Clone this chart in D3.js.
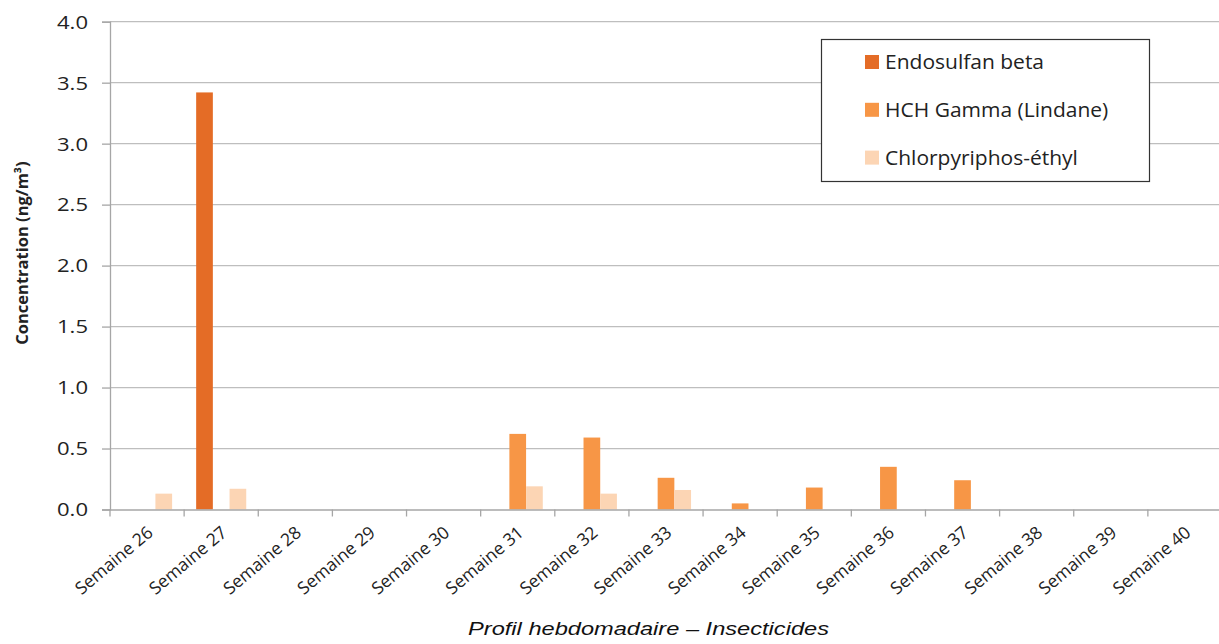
<!DOCTYPE html>
<html>
<head>
<meta charset="utf-8">
<script src="https://cdn.jsdelivr.net/npm/d3@7"></script>
<style>
  html, body { margin: 0; padding: 0; background: #fff; }
  svg { display: block; }
</style>
</head>
<body>
<svg id="chart" width="1219" height="644"></svg>
<script>
// Weekly insecticide concentrations (ng/m³)
const weeks = ["Semaine 26","Semaine 27","Semaine 28","Semaine 29","Semaine 30","Semaine 31","Semaine 32",
               "Semaine 33","Semaine 34","Semaine 35","Semaine 36","Semaine 37","Semaine 38","Semaine 39","Semaine 40"];
const seriesNames = ["Endosulfan beta", "HCH Gamma (Lindane)", "Chlorpyriphos-éthyl"];
const endosulfanBeta   = [0, 3.42, 0, 0, 0, 0,    0,    0,    0,    0,    0,    0,    0, 0, 0];
const hchGamma         = [0, 0,    0, 0, 0, 0.62, 0.59, 0.26, 0.05, 0.18, 0.35, 0.24, 0, 0, 0];
const chlorpyriphos    = [0.13, 0.17, 0, 0, 0, 0.19, 0.13, 0.16, 0, 0, 0, 0, 0, 0, 0];
const yTicks = [0, 0.5, 1.0, 1.5, 2.0, 2.5, 3.0, 3.5, 4.0];
const colors = ["#E46C26", "#F79646", "#FCD5B4"];

const series = [endosulfanBeta, hchGamma, chlorpyriphos];
const FONT = "'Open Sans', sans-serif";
const INK = "#222";
const AXIS = "#A6A6A6";

const svg = d3.select("#chart");
const margin = { left: 110, right: 1222, top: 21.7, bottom: 509.5 };

const x = d3.scaleBand().domain(weeks).range([margin.left, margin.right]).paddingInner(0).paddingOuter(0);
const xInner = d3.scaleBand().domain(d3.range(series.length))
  .range([0, x.bandwidth()]).paddingOuter(0.72).paddingInner(0);
const y = d3.scaleLinear().domain([0, 4]).range([margin.bottom, margin.top]);

// gridlines
svg.append("g")
  .selectAll("line")
  .data(yTicks.filter(d => d > 0))
  .join("line")
  .attr("x1", margin.left).attr("x2", margin.right)
  .attr("y1", d => y(d)).attr("y2", d => y(d))
  .attr("stroke", "#BEBEBE").attr("stroke-width", 1.3);

// bars
const groups = svg.append("g")
  .selectAll("g")
  .data(weeks)
  .join("g")
  .attr("transform", d => `translate(${x(d)},0)`);

groups.selectAll("rect")
  .data((w, i) => series.map((s, k) => ({ k, v: s[i] })).filter(d => d.v > 0))
  .join("rect")
  .attr("x", d => xInner(d.k))
  .attr("width", xInner.bandwidth())
  .attr("y", d => y(d.v))
  .attr("height", d => y(0) - y(d.v))
  .attr("fill", d => colors[d.k]);

// y axis: line + ticks from d3, labels drawn separately (slightly widened glyphs)
const yAxis = svg.append("g")
  .attr("transform", `translate(${margin.left},0)`)
  .call(d3.axisLeft(y).tickValues(yTicks).tickFormat("").tickSizeOuter(0).tickSize(8));
yAxis.select(".domain").attr("stroke", AXIS).attr("stroke-width", 1.3);
yAxis.selectAll(".tick line").attr("stroke", AXIS).attr("stroke-width", 1.3);

svg.append("g")
  .selectAll("text")
  .data(yTicks)
  .join("text")
  .attr("transform", d => `translate(${margin.left - 22},${y(d)}) scale(1.16,1)`)
  .attr("text-anchor", "end")
  .attr("dy", "0.36em")
  .attr("font-family", FONT).attr("font-size", 19).attr("fill", INK)
  .text(d3.format(".1f"));

// x axis
const xAxis = svg.append("g")
  .attr("transform", `translate(0,${margin.bottom})`)
  .call(d3.axisBottom(x).tickSize(0).tickFormat(""));
xAxis.select(".domain").attr("stroke", AXIS).attr("stroke-width", 1.3);

// tick marks at category boundaries
svg.append("g")
  .selectAll("line")
  .data(d3.range(weeks.length + 1))
  .join("line")
  .attr("x1", i => margin.left + i * x.step())
  .attr("x2", i => margin.left + i * x.step())
  .attr("y1", margin.bottom).attr("y2", margin.bottom + 7)
  .attr("stroke", AXIS).attr("stroke-width", 1.3);

// category labels
svg.append("g")
  .selectAll("text")
  .data(weeks)
  .join("text")
  .attr("transform", d => `translate(${x(d) + x.bandwidth() / 2 + 7},${margin.bottom + 25}) rotate(-40)`)
  .attr("text-anchor", "end")
  .attr("font-family", FONT)
  .attr("font-size", 17.5)
  .attr("fill", INK)
  .text(d => d);

// y axis title
svg.append("text")
  .attr("transform", `translate(28,253) rotate(-90)`)
  .attr("text-anchor", "middle")
  .attr("font-family", FONT)
  .attr("font-weight", "bold")
  .attr("font-size", 16.5)
  .attr("fill", INK)
  .text("Concentration (ng/m³)");

// x axis title
svg.append("text")
  .attr("transform", "translate(648.5,635) scale(1.27,1)")
  .attr("text-anchor", "middle")
  .attr("font-family", "'Liberation Sans', Arial, sans-serif")
  .attr("font-style", "italic")
  .attr("font-size", 18.6)
  .attr("fill", "#111")
  .text("Profil hebdomadaire – Insecticides");

// legend
const legend = svg.append("g");
legend.append("rect")
  .attr("x", 821.5).attr("y", 39.5).attr("width", 328).attr("height", 142)
  .attr("fill", "#fff").attr("stroke", "#333").attr("stroke-width", 1.2);
const items = legend.selectAll("g.item")
  .data(seriesNames)
  .join("g")
  .attr("class", "item")
  .attr("transform", (d, i) => `translate(865,${62 + i * 47.8})`);
items.append("rect")
  .attr("x", 0).attr("y", -7).attr("width", 14).attr("height", 14)
  .attr("fill", (d, i) => colors[i]);
items.append("text")
  .attr("transform", "translate(20,0) scale(1.05,1)")
  .attr("dy", "0.36em")
  .attr("font-family", FONT)
  .attr("font-size", 20)
  .attr("fill", INK)
  .text(d => d);
</script>
</body>
</html>
